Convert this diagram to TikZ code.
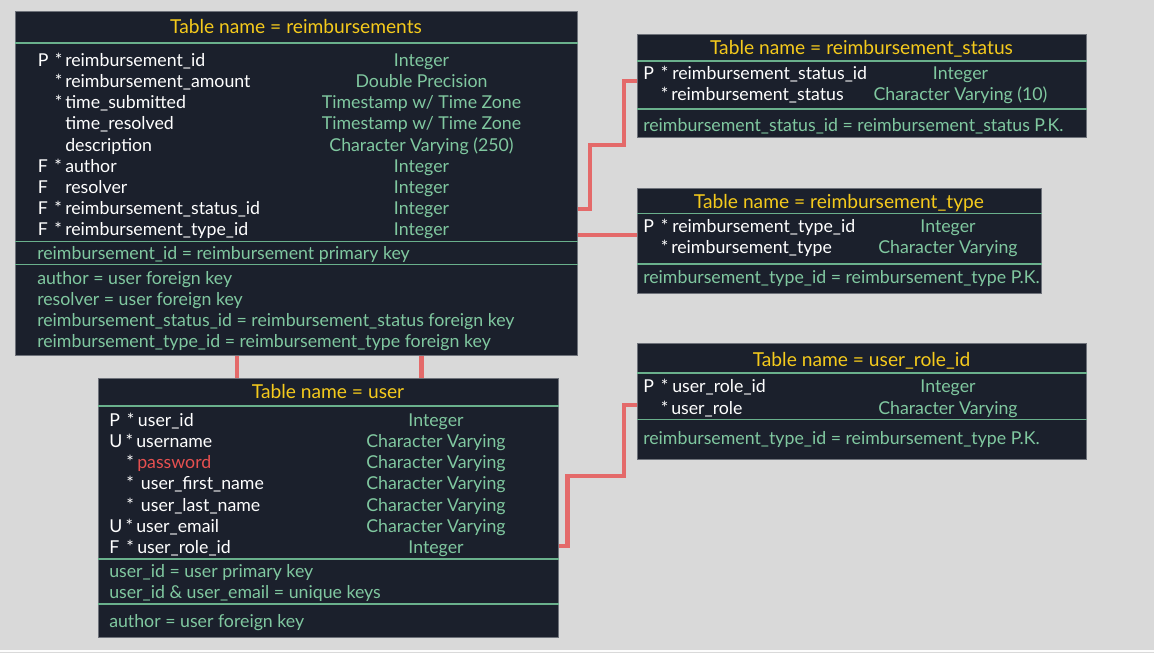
\documentclass[tikz,border=0pt]{standalone}
\usepackage{fontspec}
\setmainfont{Lato}
\definecolor{bg}{HTML}{D9D9D9}
\definecolor{tblfill}{HTML}{1B202C}
\definecolor{tblborder}{HTML}{6E727A}
\definecolor{sepcol}{HTML}{6AB08C}
\definecolor{typecol}{HTML}{80C8A0}
\definecolor{titlecol}{HTML}{F5CA1C}
\definecolor{pwcol}{HTML}{E65050}
\definecolor{conncol}{HTML}{E46A6A}
\begin{document}
\begin{tikzpicture}[x=0.75pt,y=-0.75pt,
  tbl/.style={draw=tblborder,line width=0.75pt,fill=tblfill,rectangle,inner sep=0pt,anchor=north west},
  sepline/.style={draw=sepcol,line width=1.2pt},
  ttl/.style={inner sep=0pt,anchor=base,text=titlecol,font=\fontsize{14.4}{17}\selectfont},
  fld/.style={inner sep=0pt,anchor=base west,text=white,font=\fontsize{13.3}{16}\selectfont},
  pw/.style={fld,text=pwcol},
  typ/.style={inner sep=0pt,anchor=base,text=typecol,font=\fontsize{13.3}{16}\selectfont},
  note/.style={inner sep=0pt,anchor=base west,text=typecol,font=\fontsize{13.3}{16}\selectfont},
  conn/.style={draw=conncol,line width=3.3pt,line join=miter,line cap=butt}]
\useasboundingbox (0,0) rectangle (1154,653);
\fill[bg] (0,0) rectangle (1154,653);
\draw[white!92!bg,line width=0.9pt] (0,651) -- (1154,651);

% ---------- reimbursements ----------
\node[tbl,minimum width=562*0.75pt,minimum height=344*0.75pt] (rb) at (15,11) {};
\node[ttl] (rbT) at (296,33.5) {Table name = reimbursements};
\draw[sepline] (rb.west |- 0,43) -- (rb.east |- 0,43);
\node[fld] (rb1p) at (37.5,66.3) {P};
\node[fld] (rb1s) at (54.5,66.3) {*};
\node[fld] (rb1n) at (65,66.3) {reimbursement\_id};
\node[typ] (rb1t) at (421.5,66.3) {Integer};
\node[fld] (rb2s) at (54.5,87.3) {*};
\node[fld] (rb2n) at (65,87.3) {reimbursement\_amount};
\node[typ] (rb2t) at (421.5,87.3) {Double Precision};
\node[fld] (rb3s) at (54.5,108.3) {*};
\node[fld] (rb3n) at (65,108.3) {time\_submitted};
\node[typ] (rb3t) at (421.5,108.3) {Timestamp w/ Time Zone};
\node[fld] (rb4n) at (65,129.8) {time\_resolved};
\node[typ] (rb4t) at (421.5,129.8) {Timestamp w/ Time Zone};
\node[fld] (rb5n) at (65,151.3) {description};
\node[typ] (rb5t) at (421.5,151.3) {Character Varying (250)};
\node[fld] (rb6p) at (37.5,172.3) {F};
\node[fld] (rb6s) at (54,172.3) {*};
\node[fld] (rb6n) at (65,172.3) {author};
\node[typ] (rb6t) at (421.5,172.3) {Integer};
\node[fld] (rb7p) at (37.5,193.8) {F};
\node[fld] (rb7n) at (65,193.8) {resolver};
\node[typ] (rb7t) at (421.5,193.8) {Integer};
\node[fld] (rb8p) at (37.5,214.8) {F};
\node[fld] (rb8s) at (54,214.8) {*};
\node[fld] (rb8n) at (65,214.8) {reimbursement\_status\_id};
\node[typ] (rb8t) at (421.5,214.8) {Integer};
\node[fld] (rb9p) at (37.5,235.8) {F};
\node[fld] (rb9s) at (54,235.8) {*};
\node[fld] (rb9n) at (65,235.8) {reimbursement\_type\_id};
\node[typ] (rb9t) at (421.5,235.8) {Integer};
\draw[sepline] (rb.west |- 0,241.5) -- (rb.east |- 0,241.5);
\node[note] (rbk1) at (37,259.3) {reimbursement\_id = reimbursement primary key};
\draw[sepline] (rb.west |- 0,264.5) -- (rb.east |- 0,264.5);
\node[note] (rbk2) at (37,284.3) {author = user foreign key};
\node[note] (rbk3) at (37,305.3) {resolver = user foreign key};
\node[note] (rbk4) at (37,326.3) {reimbursement\_status\_id = reimbursement\_status foreign key};
\node[note] (rbk5) at (37,347.8) {reimbursement\_type\_id = reimbursement\_type foreign key};

% ---------- reimbursement_status ----------
\node[tbl,minimum width=449*0.75pt,minimum height=103*0.75pt] (rs) at (637,34) {};
\node[ttl] (rsT) at (861.5,54.5) {Table name = reimbursement\_status};
\draw[sepline] (rs.west |- 0,61) -- (rs.east |- 0,61);
\node[fld] (rs1p) at (643,79.6) {P};
\node[fld] (rs1s) at (660.5,79.6) {*};
\node[fld] (rs1n) at (672,79.6) {reimbursement\_status\_id};
\node[typ] (rs1t) at (960.5,79.6) {Integer};
\node[fld] (rs2s) at (660.5,100.3) {*};
\node[fld] (rs2n) at (671,100.3) {reimbursement\_status};
\node[typ] (rs2t) at (960.5,100.3) {Character Varying (10)};
\draw[sepline] (rs.west |- 0,109) -- (rs.east |- 0,109);
\node[note] (rsk) at (643,131.3) {reimbursement\_status\_id = reimbursement\_status P.K.};

% ---------- reimbursement_type ----------
\node[tbl,minimum width=404*0.75pt,minimum height=104.5*0.75pt] (rt) at (637,188.3) {};
\node[ttl] (rtT) at (839,208.2) {Table name = reimbursement\_type};
\draw[sepline] (rt.west |- 0,213.3) -- (rt.east |- 0,213.3);
\node[fld] (rt1p) at (643,232.3) {P};
\node[fld] (rt1s) at (660.5,232.3) {*};
\node[fld] (rt1n) at (672,232.3) {reimbursement\_type\_id};
\node[typ] (rt1t) at (948,232.3) {Integer};
\node[fld] (rt2s) at (660.5,253.6) {*};
\node[fld] (rt2n) at (671,253.6) {reimbursement\_type};
\node[typ] (rt2t) at (948,253.6) {Character Varying};
\draw[sepline] (rt.west |- 0,264) -- (rt.east |- 0,264);
\node[note] (rtk) at (643,283.3) {reimbursement\_type\_id = reimbursement\_type P.K.};

% ---------- user_role_id ----------
\node[tbl,minimum width=449*0.75pt,minimum height=116*0.75pt] (ur) at (637,343.3) {};
\node[ttl] (urT) at (861.5,366.5) {Table name = user\_role\_id};
\draw[sepline] (ur.west |- 0,372.7) -- (ur.east |- 0,372.7);
\node[fld] (ur1p) at (643,392.3) {P};
\node[fld] (ur1s) at (660.5,392.3) {*};
\node[fld] (ur1n) at (672,392.3) {user\_role\_id};
\node[typ] (ur1t) at (948,392.3) {Integer};
\node[fld] (ur2s) at (660.5,414) {*};
\node[fld] (ur2n) at (671,414) {user\_role};
\node[typ] (ur2t) at (948,414) {Character Varying};
\draw[sepline] (ur.west |- 0,419.3) -- (ur.east |- 0,419.3);
\node[note] (urk) at (643,444) {reimbursement\_type\_id = reimbursement\_type P.K.};

% ---------- user ----------
\node[tbl,minimum width=460.5*0.75pt,minimum height=259*0.75pt] (us) at (97.5,378.3) {};
\node[ttl] (usT) at (328,398.2) {Table name = user};
\draw[sepline] (us.west |- 0,405.7) -- (us.east |- 0,405.7);
\node[fld] (us1p) at (109,426.3) {P};
\node[fld] (us1s) at (126.7,426.3) {*};
\node[fld] (us1n) at (137.7,426.3) {user\_id};
\node[typ] (us1t) at (436,426.3) {Integer};
\node[fld] (us2p) at (109,447.3) {U};
\node[fld] (us2s) at (125.3,447.3) {*};
\node[fld] (us2n) at (136,447.3) {username};
\node[typ] (us2t) at (436,447.3) {Character Varying};
\node[fld] (us3s) at (126,468.6) {*};
\node[pw] (us3n) at (137,468.6) {password};
\node[typ] (us3t) at (436,468.6) {Character Varying};
\node[fld] (us4s) at (126,489.6) {*};
\node[fld] (us4n) at (140.7,489.6) {user\_first\_name};
\node[typ] (us4t) at (436,489.6) {Character Varying};
\node[fld] (us5s) at (126,511.3) {*};
\node[fld] (us5n) at (140.7,511.3) {user\_last\_name};
\node[typ] (us5t) at (436,511.3) {Character Varying};
\node[fld] (us6p) at (109,532.3) {U};
\node[fld] (us6s) at (125.3,532.3) {*};
\node[fld] (us6n) at (136,532.3) {user\_email};
\node[typ] (us6t) at (436,532.3) {Character Varying};
\node[fld] (us7p) at (109,553.3) {F};
\node[fld] (us7s) at (126,553.3) {*};
\node[fld] (us7n) at (137,553.3) {user\_role\_id};
\node[typ] (us7t) at (436,553.3) {Integer};
\draw[sepline] (us.west |- 0,558.7) -- (us.east |- 0,558.7);
\node[note] (usk1) at (109,577.6) {user\_id = user primary key};
\node[note] (usk2) at (109,598.6) {user\_id \& user\_email = unique keys};
\draw[sepline] (us.west |- 0,604) -- (us.east |- 0,604);
\node[note] (usk3) at (109,627.6) {author = user foreign key};

% ---------- connectors ----------
\coordinate (c1a) at (590,145);
\coordinate (c1b) at (624,81);
\draw[conn] (rb.east |- 0,209) -| (c1a) -| (c1b) -- (rs.west |- c1b);
\draw[conn] (rb.east |- 0,235) -- (rt.west |- 0,235);
\coordinate (c3a) at (567.5,476);
\coordinate (c3b) at (624,405);
\draw[conn] (us.east |- 0,546) -| (c3a) -| (c3b) -- (ur.west |- c3b);
\draw[conn] (rb.south -| 237,0) -- (us.north -| 237,0);
\draw[conn] (rb.south -| 421.5,0) -- (us.north -| 421.5,0);
\end{tikzpicture}
\end{document}
